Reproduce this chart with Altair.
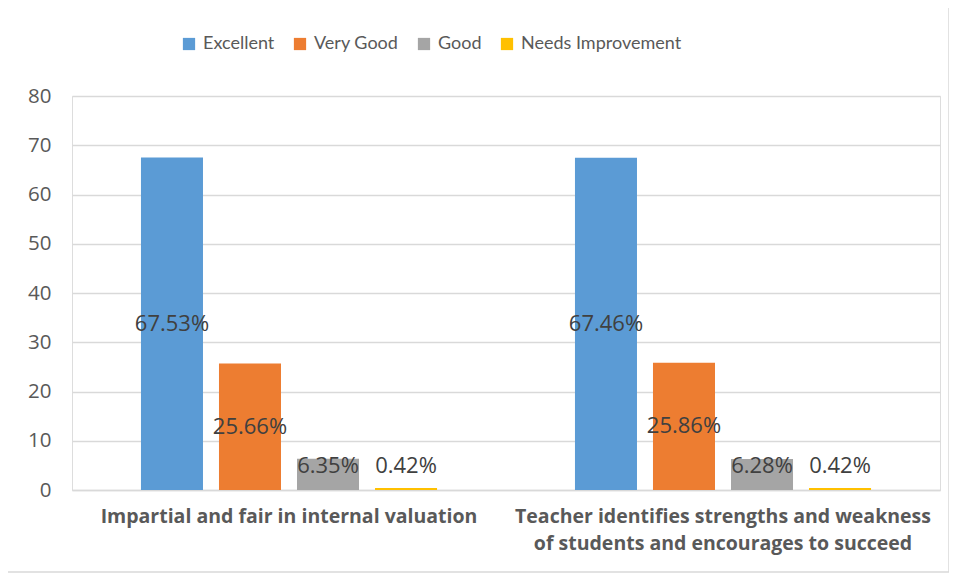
import altair as alt
import pandas as pd

categories = [
    "Impartial and fair in internal valuation",
    "Teacher identifies strengths and weakness of students and encourages to succeed",
]
series = ["Excellent", "Very Good", "Good", "Needs Improvement"]
excellent = [67.53, 67.46]
very_good = [25.66, 25.86]
good = [6.35, 6.28]
needs_improvement = [0.42, 0.42]
colors = ["#5b9bd5", "#ed7d31", "#a5a5a5", "#ffc000"]
y_ticks = [0, 10, 20, 30, 40, 50, 60, 70, 80]

rows = []
for s, vals in zip(series, [excellent, very_good, good, needs_improvement]):
    for c, v in zip(categories, vals):
        rows.append({"category": c, "series": s, "value": v})
df = pd.DataFrame(rows)

FONT = "Lato, sans-serif"
FONT2 = "'Open Sans', sans-serif"

label_expr = (
    "datum.label == '" + categories[1] + "' ? "
    "['Teacher identifies strengths and weakness', 'of students and encourages to succeed'] : datum.label"
)

x_enc = alt.X(
    "category:N",
    sort=categories,
    scale=alt.Scale(paddingInner=0, paddingOuter=0),
    axis=alt.Axis(
        title=None, labelAngle=0, ticks=False, domainColor="#d9d9d9", domainWidth=1.3,
        labelFontSize=19.5, labelFontWeight="bold", labelColor="#595959",
        labelPadding=17, labelLineHeight=27, labelExpr=label_expr, labelFont=FONT2,
        labelLimit=600,
    ),
)
xo_enc = alt.XOffset(
    "series:N", sort=series,
    scale=alt.Scale(paddingInner=0.205, paddingOuter=0.884),
)

bars = alt.Chart(df).mark_bar().encode(
    x=x_enc,
    xOffset=xo_enc,
    y=alt.Y(
        "value:Q",
        scale=alt.Scale(domain=[0, 80], nice=False),
        axis=alt.Axis(
            title=None, values=y_ticks, ticks=False, domain=False,
            gridColor="#d9d9d9", gridWidth=1.3, labelFontSize=20.5,
            labelColor="#595959", labelPadding=21, labelFont=FONT2,
        ),
    ),
    color=alt.Color(
        "series:N", sort=series,
        scale=alt.Scale(domain=series, range=colors),
        legend=alt.Legend(
            title=None, orient="none", direction="horizontal",
            legendX=108, legendY=-61, symbolType="square", symbolSize=150,
            symbolStrokeWidth=0, labelFontSize=18, labelColor="#595959",
            columnPadding=16, labelFont=FONT, labelOffset=5, labelLimit=300,
        ),
    ),
)

texts = alt.Chart(df).transform_calculate(
    lbl="format(datum.value, '.2f') + '%'",
    ypos="max(datum.value / 2, 4.9)",
).mark_text(fontSize=22, color="#404040", font=FONT2, baseline="middle").encode(
    x=alt.X("category:N", sort=categories),
    xOffset=alt.XOffset("series:N", sort=series),
    y=alt.Y("ypos:Q"),
    text="lbl:N",
)

border = alt.Chart(pd.DataFrame({"a": [0]})).mark_rect(
    fill=None, stroke="#d9d9d9", strokeWidth=1.5
).encode(
    x=alt.value(-65), x2=alt.value(877), y=alt.value(-91), y2=alt.value(476)
)

chart = alt.layer(bars, texts, border).properties(
    width=868, height=394,
    autosize=alt.AutoSizeParams(type="none"),
    padding={"left": 64, "top": 88, "right": 9, "bottom": 83},
).configure_view(stroke=None).configure(background="white")

chart.save("out.html", embed_options={"renderer": "svg", "actions": False})
